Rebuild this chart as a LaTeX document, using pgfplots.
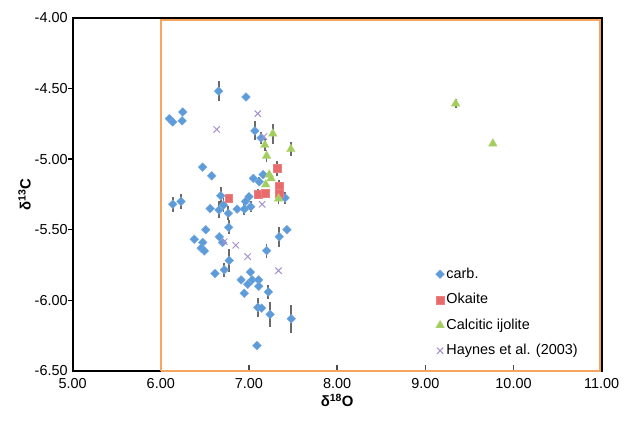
\documentclass[border=0pt]{standalone}
\usepackage{pgfplots}
\pgfplotsset{compat=1.18}
\usepackage{pgfplotstable}
\usepackage{fontspec}
\setmainfont{Liberation Sans}
\definecolor{carbC}{HTML}{5E9BD9}
\definecolor{okaC}{HTML}{E86A6A}
\definecolor{calC}{HTML}{A3CE5E}
\definecolor{hayC}{HTML}{A592CC}
\definecolor{frameC}{HTML}{F6A55E}
\definecolor{errC}{HTML}{6A6A6A}

\pgfplotstableread{
x y ey
6.656 -4.518 0.07
6.966 -4.560 0
6.098 -4.713 0
6.136 -4.737 0
6.249 -4.666 0
6.242 -4.729 0
7.068 -4.800 0.067
7.136 -4.850 0.04
6.475 -5.057 0
6.577 -5.118 0.03
7.050 -5.137 0
7.117 -5.160 0.03
7.160 -5.110 0
6.680 -5.260 0.06
7.410 -5.275 0.04
7.000 -5.266 0
6.960 -5.300 0
6.136 -5.320 0.055
6.230 -5.300 0.05
6.560 -5.350 0
6.660 -5.360 0.06
6.710 -5.325 0.05
6.766 -5.384 0.05
6.865 -5.354 0
6.947 -5.354 0.04
7.020 -5.337 0.04
6.770 -5.483 0.05
6.510 -5.500 0
6.380 -5.568 0
6.475 -5.590 0
6.457 -5.630 0
6.494 -5.650 0
6.664 -5.550 0
6.700 -5.590 0
6.777 -5.718 0.08
6.720 -5.784 0.05
6.615 -5.810 0
7.200 -5.648 0.05
7.343 -5.550 0.07
7.430 -5.500 0
7.015 -5.800 0
6.910 -5.855 0
6.985 -5.886 0
7.035 -5.855 0
7.110 -5.855 0
7.110 -5.900 0
6.947 -5.950 0
7.220 -5.940 0.05
7.100 -6.050 0.065
7.143 -6.055 0
7.240 -6.100 0.09
7.480 -6.130 0.1
7.090 -6.320 0
}\carb

\pgfplotstableread{
x y ey
7.317 -5.066 0.05
7.343 -5.190 0.04
7.343 -5.240 0.04
7.100 -5.245 0.03
7.185 -5.240 0.03
6.770 -5.280 0.03
}\okaite

\pgfplotstableread{
x y ey
9.344 -4.607 0.03
9.766 -4.890 0
7.270 -4.820 0.07
7.180 -4.900 0.04
7.200 -4.977 0.04
7.475 -4.930 0.05
7.230 -5.110 0
7.250 -5.137 0
7.190 -5.180 0
7.335 -5.280 0.04
}\calcitic

\pgfplotstableread{
x y
7.100 -4.678
6.634 -4.790
7.170 -4.840
7.150 -5.320
6.720 -5.585
6.850 -5.610
6.985 -5.690
7.335 -5.790
}\haynes

\pgfplotstableread{
x y
4.972 -4.5
4.972 -5
4.972 -5.5
4.972 -6
}\yticks

\pgfplotstableread{
x y
7 -6.478
8 -6.478
9 -6.478
10 -6.478
}\xticks

\begin{document}
\fontsize{14.5bp}{17bp}\selectfont
\begin{tikzpicture}
\path (-73bp,-50bp) rectangle (551bp,373bp);
\begin{axis}[
  at={(0,0)}, anchor=south west,
  scale only axis,
  width=532bp, height=355bp,
  xmin=5, xmax=11, ymin=-6.5, ymax=-4,
  clip=false,
  xtick={5,6,7,8,9,10,11},
  ytick={-6.5,-6,-5.5,-5,-4.5,-4},
  xticklabel style={/pgf/number format/fixed, /pgf/number format/fixed zerofill,
    /pgf/number format/precision=2, /pgf/number format/assume math mode=true, yshift=-2bp},
  yticklabel style={/pgf/number format/fixed, /pgf/number format/fixed zerofill,
    /pgf/number format/precision=2, /pgf/number format/assume math mode=true},
  tick label style={font=\fontsize{14.5bp}{17bp}\selectfont},
  major tick length=0pt,
  xlabel={\textbf{δ\textsuperscript{18}O}},
  ylabel={\textbf{δ\textsuperscript{13}C}},
  label style={font=\fontsize{15bp}{18bp}\selectfont},
  xlabel style={yshift=4bp},
  ylabel style={yshift=-6bp},
  legend style={at={(0.686,0.298)}, anchor=north west, draw=none, fill=none,
    font=\fontsize{14.5bp}{17bp}\selectfont, row sep=9bp, inner sep=0pt,
    cells={anchor=west}},
  legend image code/.code={\draw[mark repeat=2,mark phase=2,#1] plot coordinates {(0bp,0bp)(5bp,0bp)(10bp,0bp)};},
]
% frame and ticks
\addplot[forget plot, draw=black, line width=2pt, mark=none] coordinates {(5,-6.5)(5,-4)(11,-4)(11,-6.5)(5,-6.5)};
\addplot[forget plot, only marks, mark=-, mark size=2.5bp, mark options={draw=black, line width=1.5pt}] table[x=x,y=y] {\yticks};
\addplot[forget plot, only marks, mark=|, mark size=2.5bp, mark options={draw=black!70, line width=1.5pt}] table[x=x,y=y] {\xticks};
\addplot[forget plot, draw=frameC, line width=2pt, mark=none] coordinates {(6.0,-6.497)(6.0,-4.018)(10.978,-4.018)(10.978,-6.497)(6.0,-6.497)};

\addplot[only marks, mark=square*, mark size=3.1bp, mark options={rotate=45, fill=carbC, draw=carbC!85!white},
  error bars/.cd, y dir=both, y explicit, error mark=none,
  error bar style={line width=1.8pt, draw=errC}]
  table[x=x, y=y, y error=ey] {\carb};
\addplot[only marks, mark=square*, mark size=4bp, mark options={fill=okaC, draw=okaC!85!white},
  error bars/.cd, y dir=both, y explicit, error mark=none,
  error bar style={line width=1.8pt, draw=errC}]
  table[x=x, y=y, y error=ey] {\okaite};
\addplot[only marks, mark=triangle*, mark size=5bp, mark options={fill=calC, draw=calC!85!white},
  error bars/.cd, y dir=both, y explicit, error mark=none,
  error bar style={line width=1.8pt, draw=errC}]
  table[x=x, y=y, y error=ey] {\calcitic};
\addplot[only marks, mark=x, mark size=4.5bp, mark options={draw=hayC, line width=1pt}]
  table[x=x, y=y] {\haynes};
\legend{carb., Okaite, Calcitic ijolite, Haynes et al. (2003)}
\end{axis}
\end{tikzpicture}
\end{document}
